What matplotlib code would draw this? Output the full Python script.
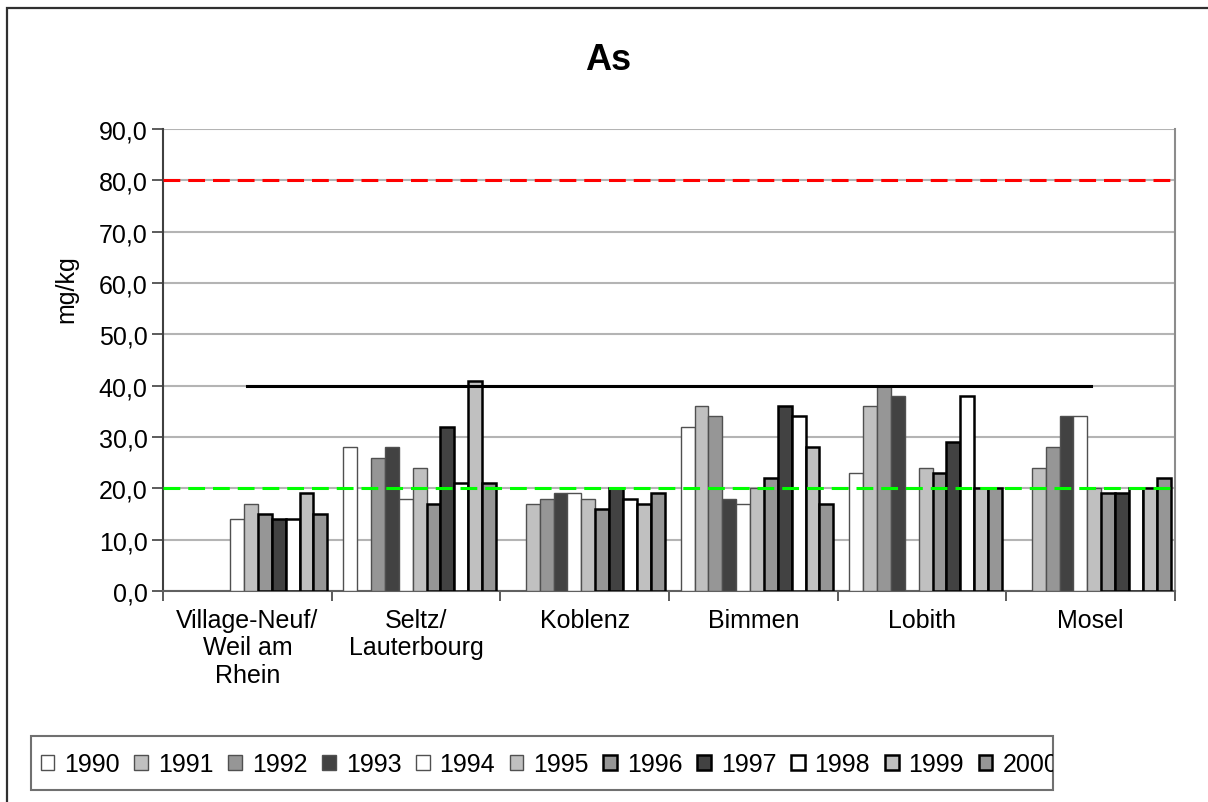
import matplotlib
matplotlib.use("Agg")
import matplotlib.pyplot as plt
from matplotlib.patches import Rectangle
from matplotlib.ticker import FuncFormatter, MultipleLocator
from matplotlib.transforms import Bbox, TransformedBbox
import numpy as np

plt.rcParams['font.family'] = ['Liberation Sans', 'DejaVu Sans']

nan = np.nan
stations = ["Village-Neuf/\nWeil am\nRhein", "Seltz/\nLauterbourg", "Koblenz",
            "Bimmen", "Lobith", "Mosel"]
years = ["1990", "1991", "1992", "1993", "1994", "1995",
         "1996", "1997", "1998", "1999", "2000"]

# As in mg/kg, one list per year, in station order
v1990 = [nan, 28, nan, 32, 23, nan]
v1991 = [nan, nan, 17, 36, 36, 24]
v1992 = [nan, 26, 18, 34, 40, 28]
v1993 = [nan, 28, 19, 18, 38, 34]
v1994 = [14, 18, 19, 17, nan, 34]
v1995 = [17, 24, 18, 20, 24, 20]
v1996 = [15, 17, 16, 22, 23, 19]
v1997 = [14, 32, 20, 36, 29, 19]
v1998 = [14, 21, 18, 34, 38, 20]
v1999 = [19, 41, 17, 28, 20, 20]
v2000 = [15, 21, 19, 17, 20, 22]
values = [v1990, v1991, v1992, v1993, v1994, v1995,
          v1996, v1997, v1998, v1999, v2000]

# reference levels
red_level = 80
green_level = 20
black_level = 40

fills = ["#FFFFFF", "#C0C0C0", "#969696", "#424242"]

fig = plt.figure(figsize=(12.08, 8.03), dpi=100)
ax = fig.add_axes([163/1208, 1 - 592/803, (1175-163)/1208, (592-130)/803])

x = np.arange(len(stations))
bw = 0.0823
start = -0.431
for j, (yr, vals) in enumerate(zip(years, values)):
    if j < 6:
        ec, lw = "#505050", 1.0
    else:
        ec, lw = "black", 1.8
    ax.bar(x + start + j*bw, vals, width=bw, align="edge",
           color=fills[j % 4], edgecolor=ec, linewidth=lw, zorder=3, label=yr)

ax.axhline(red_level, color="#FF0000", lw=2.2, dashes=(5.5, 2.6), zorder=5)
ax.axhline(green_level, color="#00FF00", lw=2.2, dashes=(5.5, 2.6), zorder=5)
ax.plot([x[0], x[-1]], [black_level, black_level], color="black", lw=2.2, zorder=5)

ax.set_xlim(-0.5, len(stations) - 0.5)
ax.set_ylim(0, 90)
ax.yaxis.set_major_locator(MultipleLocator(10))
ax.yaxis.set_major_formatter(FuncFormatter(lambda v, p: f"{v:.1f}".replace(".", ",")))
ax.grid(axis="y", color="#B4B4B4", lw=1.5, zorder=0)
ax.set_axisbelow(True)

ax.set_xticks(x)
ax.set_xticklabels(stations, fontsize=18, linespacing=1.2)
ax.set_xticks(np.arange(-0.5, len(stations)), minor=True)
ax.tick_params(axis="x", which="major", length=0, pad=12)
ax.tick_params(axis="x", which="minor", length=7, width=1.2, color="#404040")
ax.tick_params(axis="y", labelsize=18, length=8, width=1.2, color="#404040", pad=3)

ax.spines["top"].set_visible(False)
ax.spines["right"].set_color("#8C8C8C")
ax.spines["right"].set_linewidth(1.5)
ax.spines["left"].set_color("#404040")
ax.spines["left"].set_linewidth(1.5)
ax.spines["bottom"].set_color("#606060")
ax.spines["bottom"].set_linewidth(1.5)

ax.set_ylabel("mg/kg", fontsize=18)
ax.yaxis.set_label_coords(-0.084, 0.655)

fig.text(608/1208, 1 - 60/803, "As", fontsize=26, fontweight="bold",
         ha="center", va="center")

# outer chart border
fig.patches.append(Rectangle((7/1208, -0.02), 1.05, 1 - 9/803 + 0.02,
                             transform=fig.transFigure, fill=False,
                             edgecolor="#303030", lw=1.6))

# legend box
lx0, lx1, ly0, ly1 = 31, 1053, 737, 791
fig.patches.append(Rectangle((lx0/1208, 1 - ly1/803), (lx1-lx0)/1208, (ly1-ly0)/803,
                             transform=fig.transFigure, fill=False,
                             edgecolor="#707070", lw=1.5))
handles, labels = ax.get_legend_handles_labels()
leg = fig.legend(handles, labels, ncol=11, frameon=False, fontsize=18,
                 loc="center left", bbox_to_anchor=(28/1208, 1 - 765/803),
                 bbox_transform=fig.transFigure, borderpad=0,
                 handlelength=0.55, handleheight=0.55, handletextpad=0.4,
                 columnspacing=0.58)
clip = TransformedBbox(Bbox([[lx0/1208, 0], [lx1/1208, 1]]), fig.transFigure)
for t in leg.get_texts():
    t.set_clip_box(clip)
    t.set_clip_on(True)
for h in leg.legend_handles:
    h.set_clip_box(clip)
    h.set_clip_on(True)

fig.savefig("out.png", dpi=100)
